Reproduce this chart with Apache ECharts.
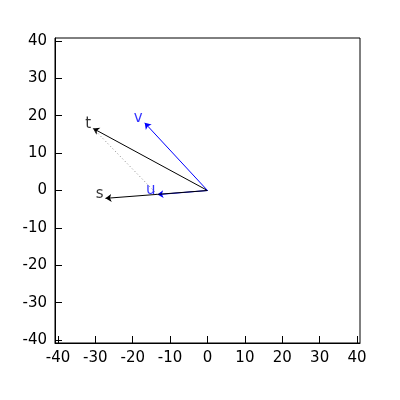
<!DOCTYPE html>
<html>
<head>
<meta charset="utf-8">
<script src="https://cdn.jsdelivr.net/npm/echarts@6/dist/echarts.min.js"></script>
<style>
html,body{margin:0;padding:0;background:#fff;}
#main{width:400px;height:400px;}
</style>
</head>
<body>
<div id="main"></div>
<script>
// vectors (from origin)
var vecNames = ['s', 't', 'u', 'v'];
var vecX = [-27.3, -30.6, -13.4, -16.8];
var vecY = [-2.1, 16.6, -1.1, 18.1];
var vecColors = ['#000000', '#000000', '#0000ff', '#0000ff'];
// dotted helper segment t -> u
var dotFrom = 't';
var dotTo = 'u';
var tickValues = [-40, -30, -20, -10, 0, 10, 20, 30, 40];

var font = 'DejaVu Sans';

function idx(n){ return vecNames.indexOf(n); }

// draw order: blue u under black s like the picture
var order = ['u', 's', 't', 'v'];
var series = [];
order.forEach(function(n){
    var i = idx(n);
    series.push({
        type: 'lines',
        coordinateSystem: 'cartesian2d',
        symbol: ['none', 'arrow'],
        symbolSize: 6,
        silent: true,
        lineStyle: {color: vecColors[i], width: 1, opacity: 1, curveness: 0},
        data: [{coords: [[0, 0], [vecX[i], vecY[i]]]}]
    });
});
// dotted line
series.push({
    type: 'lines',
    coordinateSystem: 'cartesian2d',
    symbol: 'none',
    silent: true,
    lineStyle: {color: '#888888', width: 1, type: [1, 2.5], opacity: 1},
    data: [{coords: [[vecX[idx(dotFrom)], vecY[idx(dotFrom)]], [vecX[idx(dotTo)], vecY[idx(dotTo)]]]}]
});
// labels at the tips
series.push({
    type: 'scatter',
    symbolSize: 0,
    silent: true,
    data: vecNames.map(function(n, i){
        return {
            value: [vecX[i], vecY[i]],
            name: n,
            label: {color: vecColors[i]}
        };
    }),
    label: {
        show: true,
        position: 'inside',
        align: 'right',
        verticalAlign: 'bottom',
        offset: [-2, 3],
        fontFamily: font,
        fontSize: 15,
        formatter: function(p){ return p.name; }
    }
});

function axis(){
    return {
        type: 'value',
        min: -40.8,
        max: 40.8,
        splitLine: {show: false},
        axisLine: {show: true, onZero: false, lineStyle: {color: '#000', width: 1}},
        axisTick: {show: true, inside: true, length: 7, customValues: tickValues, lineStyle: {color: '#000'}},
        axisLabel: {customValues: tickValues, color: '#000', fontFamily: font, fontSize: 15, margin: 8}
    };
}

var chart = echarts.init(document.getElementById('main'));
chart.setOption({
    animation: false,
    backgroundColor: '#fff',
    grid: {left: 55, right: 40, top: 38, bottom: 57, show: true, borderColor: '#000', borderWidth: 1},
    xAxis: axis(),
    yAxis: axis(),
    series: series
});
</script>
</body>
</html>
